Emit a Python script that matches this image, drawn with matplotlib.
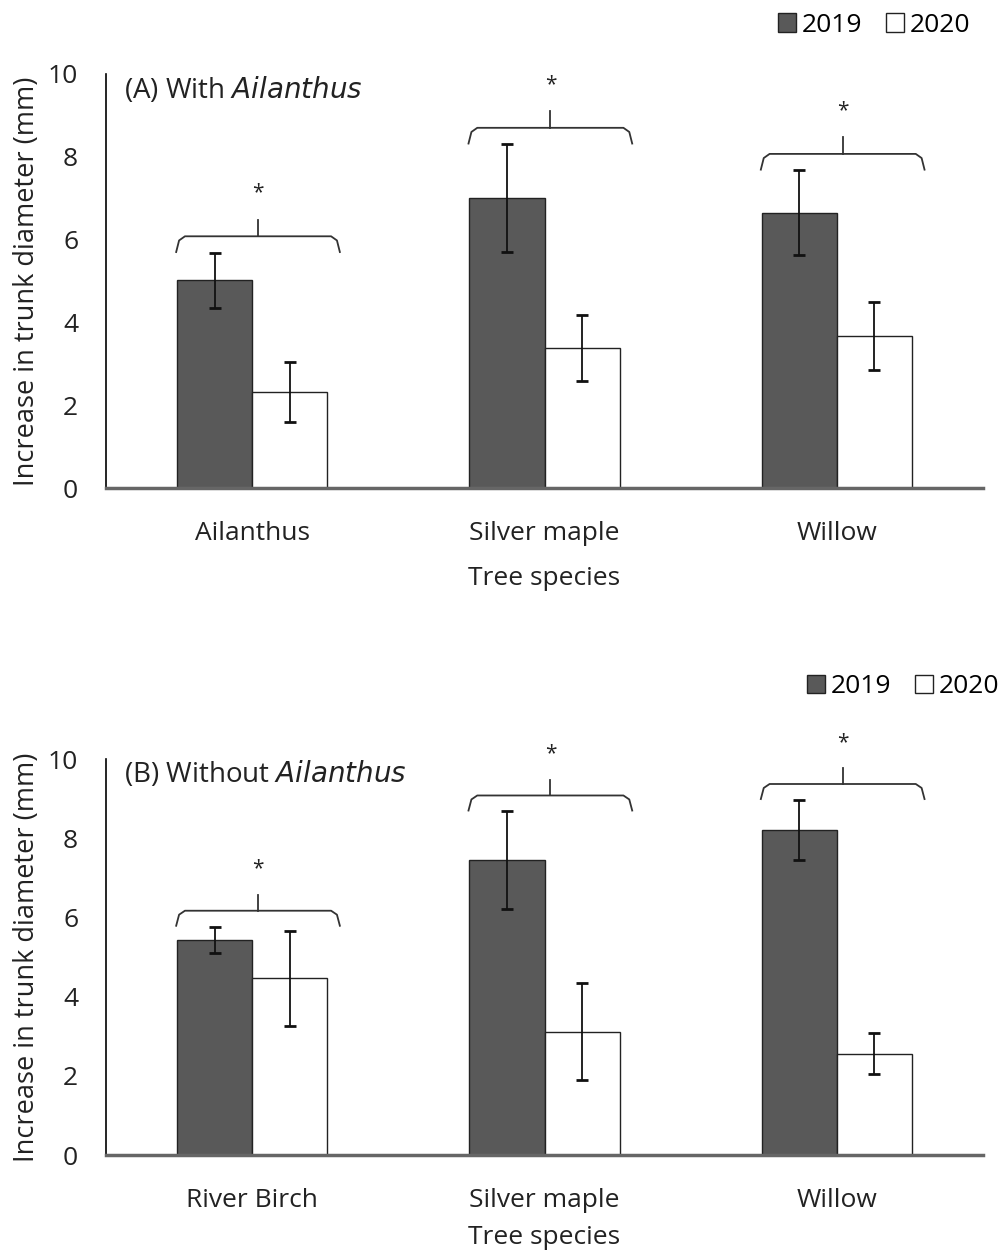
import numpy as np
import matplotlib
matplotlib.use('Agg')
import matplotlib.pyplot as plt
from matplotlib.patches import Patch

plt.rcParams['font.family'] = ['Open Sans', 'DejaVu Sans']

# panel A: with Ailanthus
species_a = ['Ailanthus', 'Silver maple', 'Willow']
mean19_a = [5.02, 7.00, 6.65]
err19_a = [0.66, 1.30, 1.02]
mean20_a = [2.32, 3.38, 3.67]
err20_a = [0.72, 0.80, 0.83]

# panel B: without Ailanthus
species_b = ['River Birch', 'Silver maple', 'Willow']
mean19_b = [5.43, 7.45, 8.21]
err19_b = [0.34, 1.23, 0.76]
mean20_b = [4.47, 3.12, 2.56]
err20_b = [1.20, 1.22, 0.51]

c19 = '#595959'
c20 = '#ffffff'
txt = '#222222'

fig = plt.figure(figsize=(10, 12.54), dpi=100)
ax_a = fig.add_axes([0.106, 0.6108, 0.877, 0.3302])
ax_b = fig.add_axes([0.106, 0.0789, 0.877, 0.3158])


def draw_panel(ax, cats, m19, e19, m20, e20, prefix, leg_y, leg_x, xlpad):
    x = np.arange(len(cats))
    w = 0.257
    ekw = dict(elinewidth=1.3, capthick=2, ecolor='#111111')
    ax.bar(x - w / 2, m19, w, yerr=e19, color=c19, edgecolor='#222222',
           linewidth=1, capsize=4, error_kw=ekw)
    ax.bar(x + w / 2, m20, w, yerr=e20, color=c20, edgecolor='#222222',
           linewidth=1, capsize=4, error_kw=ekw)
    ax.set_xlim(-0.5, len(cats) - 0.5)
    ax.set_ylim(0, 10)
    ax.set_yticks([0, 2, 4, 6, 8, 10])
    ax.set_xticks(x)
    ax.set_xticklabels(cats)
    ax.tick_params(axis='both', length=0, labelsize=19, colors=txt)
    ax.tick_params(axis='x', pad=24)
    ax.tick_params(axis='y', pad=20)
    for s in ['top', 'right']:
        ax.spines[s].set_visible(False)
    ax.spines['left'].set_linewidth(1.2)
    ax.spines['bottom'].set_color('#666666')
    ax.spines['bottom'].set_linewidth(2.5)
    ax.set_xlabel('Tree species', fontsize=19, labelpad=xlpad, color=txt)
    ax.set_ylabel('Increase in trunk diameter (mm)', fontsize=19.5, labelpad=5,
                  color=txt)
    ax.text(0.02, 0.962, prefix + ' $\\it{Ailanthus}$', transform=ax.transAxes,
            fontsize=20, va='center', ha='left', color=txt)

    # significance braces
    for i in range(len(cats)):
        top = max(m19[i] + e19[i], m20[i] + e20[i]) + 0.4
        cx = x[i] + 0.02
        hw = 0.28
        ax.plot([cx - hw, cx - hw + 0.01, cx - hw + 0.03, cx + hw - 0.03,
                 cx + hw - 0.01, cx + hw],
                [top - 0.38, top - 0.1, top, top, top - 0.1, top - 0.38],
                color='#333333', lw=1.3, clip_on=False)
        ax.plot([cx, cx], [top, top + 0.4], color='#333333', lw=1.3,
                clip_on=False)
        ax.text(cx, top + 1.05, '*', ha='center', va='center', fontsize=15,
                color=txt, clip_on=False)

    handles = [Patch(facecolor=c19, edgecolor='#222222', label='2019'),
               Patch(facecolor=c20, edgecolor='#222222', label='2020')]
    ax.legend(handles=handles, loc='center right',
              bbox_to_anchor=(leg_x, leg_y), ncol=2, frameon=False,
              fontsize=19, handlelength=0.7, handleheight=0.7,
              handletextpad=0.2, columnspacing=0.9, borderaxespad=0)


draw_panel(ax_a, species_a, mean19_a, err19_a, mean20_a, err20_a, '(A) With',
           1.118, 0.997, 14)
draw_panel(ax_b, species_b, mean19_b, err19_b, mean20_b, err20_b, '(B) Without',
           1.183, 1.03, 8)

fig.savefig('out.png', dpi=100)
